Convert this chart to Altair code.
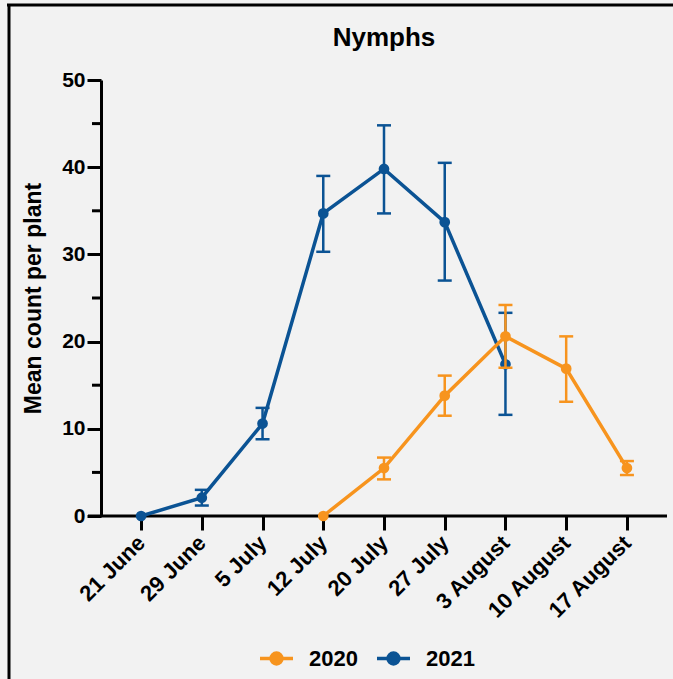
import altair as alt
import pandas as pd

dates = ["21 June", "29 June", "5 July", "12 July", "20 July", "27 July",
         "3 August", "10 August", "17 August"]

dates_2021 = ["21 June", "29 June", "5 July", "12 July", "20 July", "27 July", "3 August"]
mean_2021 = [0.0, 2.1, 10.6, 34.7, 39.8, 33.7, 17.4]
lo_2021 = [0.0, 1.2, 8.8, 30.3, 34.7, 27.0, 11.6]
hi_2021 = [0.0, 3.0, 12.4, 39.0, 44.8, 40.5, 23.3]

dates_2020 = ["12 July", "20 July", "27 July", "3 August", "10 August", "17 August"]
mean_2020 = [0.0, 5.5, 13.8, 20.6, 16.9, 5.5]
lo_2020 = [0.0, 4.2, 11.5, 17.0, 13.1, 4.7]
hi_2020 = [0.0, 6.7, 16.1, 24.2, 20.6, 6.3]

years = ["2020", "2021"]
colors = ["#F7941E", "#0B5394"]
minor_ticks = [5, 15, 25, 35, 45]

rows = []
for d, m, lo, hi in zip(dates_2021, mean_2021, lo_2021, hi_2021):
    rows.append({"date": d, "year": "2021", "mean": m, "lo": lo, "hi": hi})
for d, m, lo, hi in zip(dates_2020, mean_2020, lo_2020, hi_2020):
    rows.append({"date": d, "year": "2020", "mean": m, "lo": lo, "hi": hi})
df = pd.DataFrame(rows)
df_err = df[df["hi"] > df["lo"]]

FONT = "Liberation Sans"
W, H = 566, 436

sym_path = "M-1,0L1,0M-0.33,0A0.33,0.33,0,1,1,0.33,0A0.33,0.33,0,1,1,-0.33,0Z"

color_scale = alt.Scale(domain=years, range=colors)
legend = alt.Legend(
    title=None, orient="none", direction="horizontal",
    legendX=157, legendY=560,
    symbolType=sym_path, symbolSize=1089, symbolStrokeWidth=3.5,
    symbolOpacity=1,
    labelFont=FONT, labelFontSize=22, labelFontWeight="bold", labelColor="black",
    labelOffset=14, columnPadding=12,
)
color_enc = alt.Color("year:N", scale=color_scale, legend=legend)

x_enc = alt.X(
    "date:N", sort=dates,
    scale=alt.Scale(type="point", domain=dates, padding=0.66),
    axis=alt.Axis(
        title=None, labelAngle=-45, labelAlign="right", labelBaseline="middle",
        labelFont=FONT, labelFontSize=22, labelFontWeight="bold", labelColor="black",
        labelPadding=9, tickSize=14, tickWidth=3, tickColor="black", domain=False,
    ),
)
y_scale = alt.Scale(domain=[0, 50], nice=False, zero=True)
y_enc = alt.Y(
    "mean:Q", scale=y_scale,
    axis=alt.Axis(
        title="Mean count per plant", values=[0, 10, 20, 30, 40, 50],
        titleFont=FONT, titleFontSize=23, titleFontWeight="bold", titleColor="black",
        titlePadding=16,
        labelFont=FONT, labelFontSize=21, labelFontWeight="bold", labelColor="black",
        labelPadding=2, tickSize=14, tickWidth=3, tickColor="black",
        domainWidth=3, domainColor="black", grid=False,
    ),
)

base = alt.Chart(df)

lines = base.mark_line(strokeWidth=3.5).encode(
    x=x_enc, y=y_enc, color=color_enc,
)
err = alt.Chart(df_err).mark_rule(strokeWidth=2.5).encode(
    x=alt.X("date:N", sort=dates), y=alt.Y("lo:Q", scale=y_scale), y2="hi:Q",
    color=color_enc,
)
cap_lo = alt.Chart(df_err).mark_tick(size=14, thickness=2.5, opacity=1).encode(
    x=alt.X("date:N", sort=dates), y=alt.Y("lo:Q", scale=y_scale), color=color_enc,
)
cap_hi = alt.Chart(df_err).mark_tick(size=14, thickness=2.5, opacity=1).encode(
    x=alt.X("date:N", sort=dates), y=alt.Y("hi:Q", scale=y_scale), color=color_enc,
)
points = base.mark_circle(size=115, opacity=1).encode(
    x=alt.X("date:N", sort=dates), y=alt.Y("mean:Q", scale=y_scale), color=color_enc,
)

minor = alt.Chart(pd.DataFrame({"v": minor_ticks})).mark_rule(
    color="black", strokeWidth=3
).encode(x=alt.value(-9), x2=alt.value(0), y=alt.Y("v:Q", scale=y_scale))

x_domain = alt.Chart(pd.DataFrame({"v": [0]})).mark_rule(
    color="black", strokeWidth=3
).encode(x=alt.value(-13), x2=alt.value(W), y=alt.Y("v:Q", scale=y_scale))

frame_top = alt.Chart(pd.DataFrame({"v": [0]})).mark_rule(
    color="black", strokeWidth=3
).encode(x=alt.value(-94), x2=alt.value(W + 10), y=alt.value(-75))
frame_left = alt.Chart(pd.DataFrame({"v": [0]})).mark_rule(
    color="black", strokeWidth=3
).encode(x=alt.value(-92), y=alt.value(-76), y2=alt.value(H + 170))


def year_layers(yr):
    f = alt.datum.year == yr
    return [
        lines.transform_filter(f),
        err.transform_filter(f),
        cap_lo.transform_filter(f),
        cap_hi.transform_filter(f),
        points.transform_filter(f),
    ]


chart = alt.layer(
    minor, x_domain, frame_top, frame_left,
    *year_layers("2021"), *year_layers("2020"),
).properties(
    width=W, height=H,
    title=alt.Title("Nymphs", font=FONT, fontSize=26, fontWeight="bold",
                    color="black", anchor="middle", frame="group", offset=0,
                    dy=74, baseline="bottom"),
    background="#F2F2F2",
    padding={"left": 101, "top": 80, "right": 6, "bottom": 163},
    autosize=alt.AutoSizeParams(type="none"),
).configure_view(stroke=None)

chart.save("out.html", embed_options={"renderer": "svg", "actions": False})
